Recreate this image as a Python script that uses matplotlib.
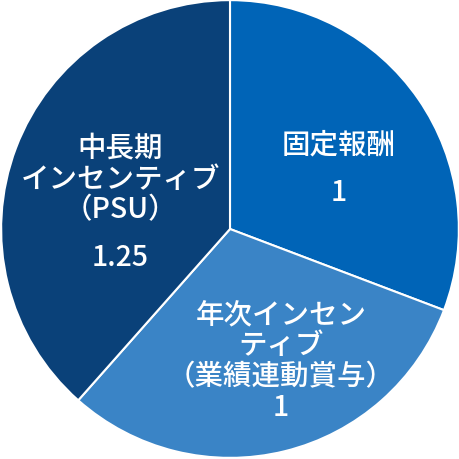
import matplotlib.pyplot as plt

plt.rcParams['font.family'] = ['Noto Sans CJK JP', 'DejaVu Sans']

labels = ['固定報酬', '年次インセン\nティブ\n（業績連動賞与）', '中長期\nインセンティブ\n（PSU）']
values = [1, 1, 1.25]
value_text = ['1', '1', '1.25']
colors = ['#0064b7', '#3a84c6', '#0a4179']

fig = plt.figure(figsize=(4.6, 4.6), dpi=100)
ax = fig.add_axes([0, 0, 1, 1])
ax.pie(values, colors=colors, startangle=90, counterclock=False,
       wedgeprops=dict(edgecolor='white', linewidth=1.5))
ax.set_xlim(-1.005, 1.005)
ax.set_ylim(-1.005, 1.005)
ax.set_aspect('equal')
ax.axis('off')

# label positions (name block, value) in data coords
name_pos = [(0.475, 0.371), (0.223, -0.505), (-0.48, 0.222)]
val_pos = [(0.475, 0.166), (0.223, -0.775), (-0.48, -0.122)]

for lab, v, (nx, ny), (vx, vy) in zip(labels, value_text, name_pos, val_pos):
    ax.text(nx, ny, lab, ha='center', va='center', color='white',
            fontsize=20.5, fontweight='medium', linespacing=1.08)
    ax.text(vx, vy, v, ha='center', va='center', color='white',
            fontsize=20.5, fontweight='medium')

fig.savefig('out.png', dpi=100)
